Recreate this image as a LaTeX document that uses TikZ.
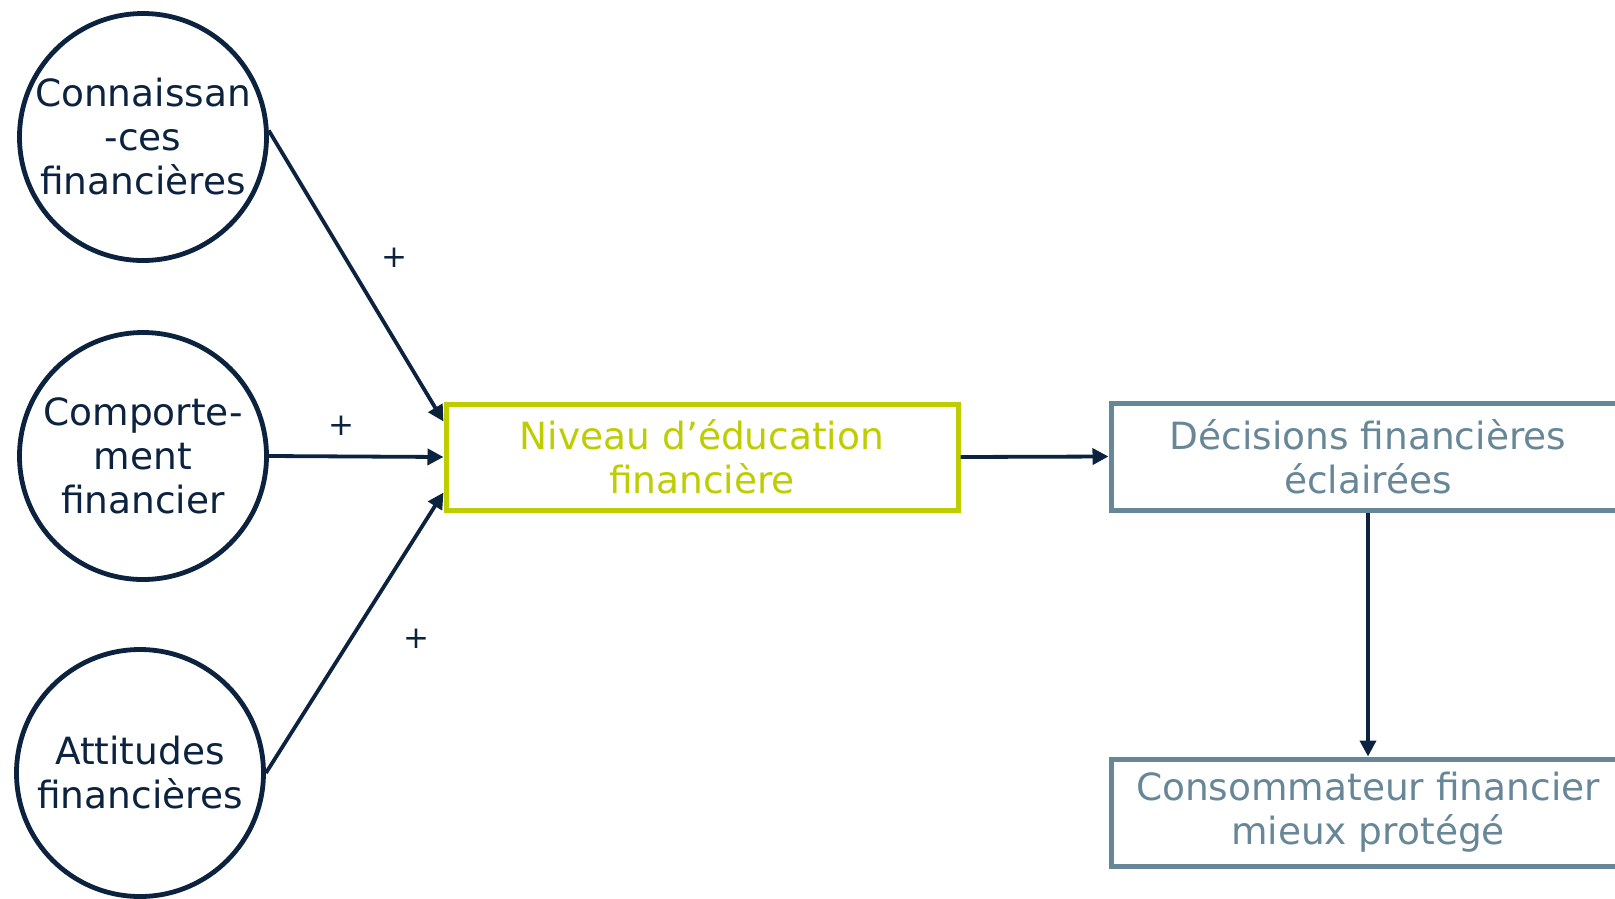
\documentclass[tikz,border=0pt]{standalone}
\usepackage{fontspec}
\setmainfont{DejaVu Sans}
\usetikzlibrary{arrows.meta}
\definecolor{navy}{RGB}{12,35,64}
\definecolor{lime}{RGB}{190,205,0}
\definecolor{slate}{RGB}{103,135,152}
\begin{document}
\begin{tikzpicture}[x=1pt,y=-1pt,
  facteur/.style={circle,draw=navy,line width=4.8pt,minimum size=247pt,inner sep=0pt,
    text=navy,align=center,font=\fontsize{37.5}{44}\selectfont},
  niveau/.style={rectangle,draw=lime,line width=5pt,minimum width=512pt,minimum height=106pt,
    text=lime,align=center,font=\fontsize{37.5}{44}\selectfont},
  effet/.style={rectangle,draw=slate,line width=5pt,minimum width=514pt,minimum height=107pt,
    text=slate,align=center,font=\fontsize{37.5}{44}\selectfont},
  fleche/.style={draw=navy,line width=3.8pt,-{Triangle[length=16pt,width=16pt]}},
  signe/.style={text=navy,font=\fontsize{31}{36}\selectfont}]
  \useasboundingbox (0,0) rectangle (1615,898);
  \node[facteur] (conn) at (143,137) {Connaissan\\-ces\\financières};
  \node[facteur] (comp) at (143,456) {Comporte-\\ment\\financier};
  \node[facteur] (atti) at (140,773) {Attitudes\\financières};
  \node[niveau] (niv) at (702,457) {Niveau d’éducation\\financière};
  \node[effet] (deci) at (1368,456.5) {Décisions financières\\éclairées};
  \node[effet] (cons) at (1368,812.5) {Consommateur financier\\mieux protégé};
  \draw[fleche] (conn.3) -- ([yshift=-20pt]niv.north west);
  \draw[fleche] (comp.east) -- (niv.west);
  \draw[fleche] (atti.east) -- ([yshift=20pt]niv.south west);
  \draw[fleche] (niv.east) -- (deci.west);
  \draw[fleche] (deci.south) -- (cons.north);
  \node[signe] (p1) at (394,258) {+};
  \node[signe] (p2) at (341,426) {+};
  \node[signe] (p3) at (416,639) {+};
\end{tikzpicture}
\end{document}
